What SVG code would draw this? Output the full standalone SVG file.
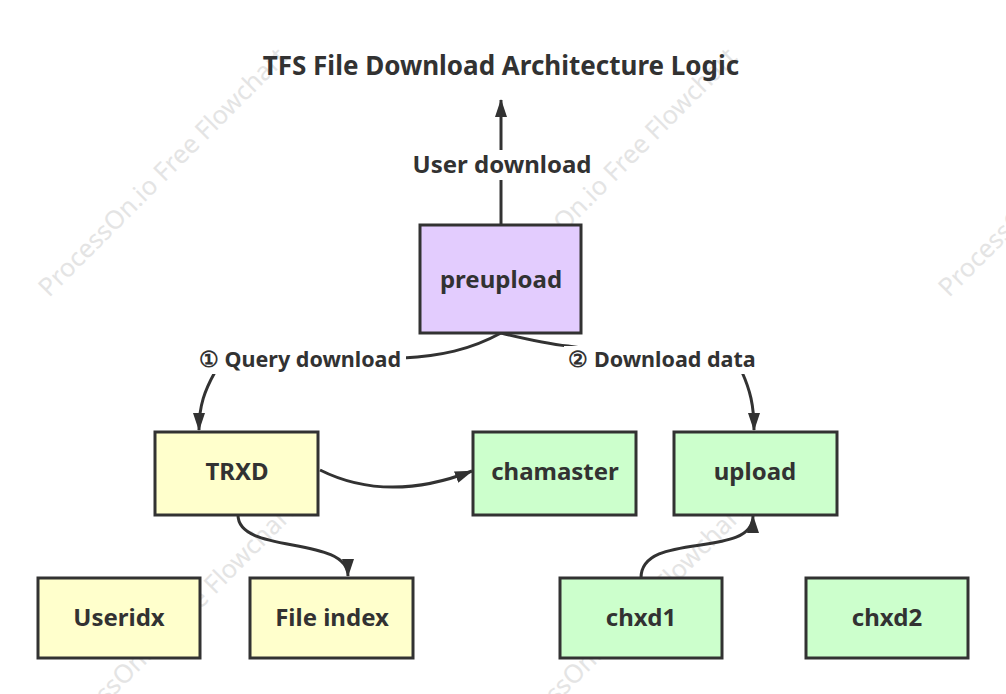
<svg xmlns="http://www.w3.org/2000/svg" width="1006" height="694" viewBox="0 0 1006 694">
<style>
  .wm { font-family: "Noto Sans", "Liberation Sans", sans-serif; font-size: 25.5px; fill: #e4e4e4; }
  .node rect { stroke: #323232; stroke-width: 3; }
  .yellow rect { fill: #ffffcc; }
  .green rect { fill: #ccffcc; }
  .purple rect { fill: #e3ccfe; }
  .t { font-family: "Noto Sans", "Liberation Sans", sans-serif; font-weight: bold; fill: #323232; text-anchor: middle; }
  .nt { font-size: 24px; }
  .lt { font-size: 21.5px; }
  .ut { font-size: 24px; }
  .tt { font-size: 26px; }
  .conn path { fill: none; stroke: #323232; stroke-width: 3; }
  .lbg { fill: #ffffff; }
</style>
<defs>
  <marker id="arr" viewBox="0 0 18 12" refX="17" refY="6" markerWidth="18" markerHeight="12" markerUnits="userSpaceOnUse" orient="auto">
    <path d="M0,0 L18,6 L0,12 Z" fill="#323232"/>
  </marker>
</defs>
<rect width="1006" height="694" fill="#ffffff"/>
<g id="watermarks">
  <text class="wm" transform="translate(49,298) rotate(-45)">ProcessOn.io Free Flowchart</text>
  <text class="wm" transform="translate(499,298) rotate(-45)">ProcessOn.io Free Flowchart</text>
  <text class="wm" transform="translate(949,298) rotate(-45)">ProcessOn.io Free Flowchart</text>
  <text class="wm" transform="translate(58,752) rotate(-45)">ProcessOn.io Free Flowchart</text>
  <text class="wm" transform="translate(508,752) rotate(-45)">ProcessOn.io Free Flowchart</text>
</g>
<text id="title" class="t tt" x="501" y="75">TFS File Download Architecture Logic</text>
<g id="connectors" class="conn">
  <path d="M501,225 L501,100" marker-end="url(#arr)"/>
  <path d="M501,333 C470,350 440,356 403,358 L215,372 C205,390 199,405 199,430" marker-end="url(#arr)"/>
  <path d="M501,333 C530,340 550,344 568,346 L742,372 C750,390 754,405 754,430" marker-end="url(#arr)"/>
  <path d="M320,470 C360,490 410,495 472,471" marker-end="url(#arr)"/>
  <path d="M238,515 C238,555 348,535 348,576" marker-end="url(#arr)"/>
  <path d="M641,578 C641,530 753,560 753,516" marker-end="url(#arr)"/>
</g>
<g id="labels">
  <rect class="lbg" x="408" y="150" width="188" height="30"/>
  <text class="t ut" x="502" y="173">User download</text>
  <rect class="lbg" x="194" y="346" width="212" height="28"/>
  <text class="t lt" x="300" y="367">① Query download</text>
  <rect class="lbg" x="564" y="346" width="197" height="28"/>
  <text class="t lt" x="662" y="367">② Download data</text>
</g>
<g id="preupload" class="node purple">
  <rect x="420" y="225" width="161" height="108"/>
  <text class="t nt" x="501" y="288">preupload</text>
</g>
<g id="TRXD" class="node yellow">
  <rect x="155" y="432" width="163" height="83"/>
  <text class="t nt" x="237" y="480">TRXD</text>
</g>
<g id="chamaster" class="node green">
  <rect x="473" y="432" width="163" height="83"/>
  <text class="t nt" x="555" y="480">chamaster</text>
</g>
<g id="upload" class="node green">
  <rect x="674" y="432" width="163" height="83"/>
  <text class="t nt" x="755" y="480">upload</text>
</g>
<g id="Useridx" class="node yellow">
  <rect x="38" y="578" width="162" height="80"/>
  <text class="t nt" x="119" y="626">Useridx</text>
</g>
<g id="FileIndex" class="node yellow">
  <rect x="250" y="578" width="163" height="80"/>
  <text class="t nt" x="332" y="626">File index</text>
</g>
<g id="chxd1" class="node green">
  <rect x="560" y="578" width="162" height="80"/>
  <text class="t nt" x="641" y="626">chxd1</text>
</g>
<g id="chxd2" class="node green">
  <rect x="806" y="578" width="162" height="80"/>
  <text class="t nt" x="887" y="626">chxd2</text>
</g>
</svg>
